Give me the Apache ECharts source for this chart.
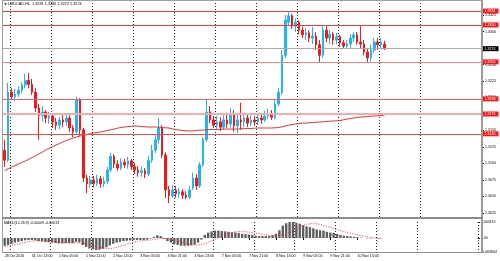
<!DOCTYPE html>
<html><head><meta charset="utf-8">
<script src="https://cdn.jsdelivr.net/npm/echarts@6/dist/echarts.min.js"></script>
<style>html,body{margin:0;padding:0;background:#fff}#c{width:500px;height:261px}</style>
</head><body><div id="c"></div>
<script>
// ---- data (prices in units of 0.0001) ----
const dateLabels = ['28 Oct 2016','31 Oct 13:00','1 Nov 05:00','1 Nov 21:00','2 Nov 13:00','3 Nov 05:00','3 Nov 21:00','4 Nov 13:00','7 Nov 05:00','7 Nov 21:00','8 Nov 13:00','9 Nov 05:00','9 Nov 21:00','10 Nov 13:00'];
const priceTicks = [1.3025,1.3050,1.3075,1.3100,1.3125,1.3150,1.3175,1.3200,1.3225,1.3250,1.3275,1.3300,1.3325];
const macdTicks = [-0.003604, 0, 0.004119];
const opens = [13120,13105,13208,13201,13205,13211,13219,13226,13220,13208,
13184,13173,13178,13169,13172,13163,13158,13166,13163,13169,
13154,13148,13196,13151,13078,13069,13075,13070,13077,13069,
13073,13090,13111,13099,13093,13102,13098,13104,13095,13090,
13086,13089,13084,13105,13120,13136,13154,13113,13060,13051,
13060,13054,13057,13052,13049,13063,13078,13066,13098,13136,
13178,13166,13158,13163,13155,13166,13160,13173,13157,13166,
13163,13169,13161,13166,13163,13169,13166,13172,13175,13170,
13190,13208,13264,13314,13324,13308,13314,13302,13295,13298,
13290,13293,13280,13264,13302,13290,13296,13287,13292,13283,
13278,13281,13290,13295,13284,13281,13269,13260,13272,13284,
13280,13281];
const closes = [13105,13208,13201,13205,13211,13219,13226,13220,13208,13184,
13173,13178,13169,13172,13163,13158,13166,13163,13169,13154,
13148,13196,13151,13078,13069,13075,13070,13077,13069,13073,
13090,13111,13099,13093,13102,13098,13104,13095,13090,13086,
13089,13084,13105,13120,13136,13154,13113,13060,13051,13060,
13054,13057,13052,13049,13060,13078,13066,13098,13136,13178,
13166,13158,13163,13155,13166,13160,13173,13157,13166,13163,
13169,13161,13166,13163,13169,13166,13172,13175,13170,13190,
13208,13264,13317,13324,13308,13314,13302,13295,13298,13290,
13293,13280,13264,13302,13290,13296,13287,13292,13283,13278,
13281,13290,13295,13284,13281,13269,13260,13272,13284,13280,
13284,13274];
const lows = [13095,13102,13196,13195,13201,13207,13214,13214,13204,13178,
13136,13163,13161,13160,13154,13151,13152,13155,13157,13148,
13140,13145,13142,13072,13055,13063,13064,13066,13063,13064,
13069,13087,13093,13089,13090,13093,13092,13090,13084,13080,
13080,13078,13081,13101,13116,13130,13108,13048,13040,13048,
13048,13048,13046,13046,13046,13060,13060,13063,13095,13133,
13161,13154,13151,13149,13151,13154,13154,13148,13146,13151,
13155,13155,13157,13157,13158,13160,13163,13167,13166,13167,
13187,13204,13260,13310,13304,13299,13296,13290,13287,13284,
13281,13272,13254,13260,13284,13281,13280,13281,13277,13274,
13274,13275,13284,13280,13275,13264,13254,13255,13267,13272,
13274,13272];
const highs = [13136,13222,13214,13213,13217,13223,13236,13237,13228,13214,
13190,13187,13181,13178,13175,13169,13170,13173,13175,13173,
13158,13201,13199,13154,13083,13081,13081,13083,13081,13080,
13095,13116,13114,13105,13108,13107,13110,13107,13101,13096,
13095,13093,13111,13128,13143,13169,13158,13117,13066,13067,
13066,13063,13061,13058,13066,13086,13084,13102,13140,13196,
13187,13172,13172,13170,13173,13177,13184,13181,13177,13192,
13177,13175,13173,13172,13175,13175,13180,13183,13181,13196,
13214,13272,13325,13331,13327,13320,13317,13307,13305,13302,
13307,13299,13287,13310,13308,13302,13299,13298,13295,13287,
13287,13296,13299,13299,13308,13287,13275,13280,13290,13290,
13290,13286];
const maValues = [13089.4,13092.0,13094.7,13096.9,13099.2,13101.5,13103.8,13106.3,13109.1,13111.6,
13114.4,13117.4,13120.4,13123.0,13125.7,13128.0,13130.3,13132.5,13134.8,13136.8,
13138.6,13140.1,13141.6,13142.8,13143.9,13145.1,13146.2,13146.9,13147.7,13148.9,
13150.0,13151.0,13152.2,13153.5,13154.5,13155.3,13156.0,13156.5,13156.8,13156.5,
13156.0,13155.6,13155.3,13155.3,13155.3,13155.0,13154.5,13154.1,13153.8,13152.5,
13151.5,13150.7,13150.0,13149.5,13149.2,13149.5,13150.0,13150.4,13150.7,13151.0,
13151.5,13151.5,13151.5,13151.9,13152.2,13152.2,13152.2,13152.2,13152.2,13152.5,
13153.0,13153.0,13153.0,13153.5,13153.8,13153.8,13153.8,13153.8,13153.8,13154.1,
13154.5,13155.6,13156.8,13158.0,13159.1,13159.8,13160.6,13161.0,13161.3,13161.6,
13162.1,13162.5,13162.8,13163.1,13163.6,13164.1,13164.4,13164.7,13165.1,13166.2,
13167.4,13168.2,13168.9,13169.7,13170.4,13170.7,13171.2,13171.6,13171.9,13172.2,
13172.7,13173.2];
// MACD in units of 0.0001
const macdMain = [-20,-18,-15,-12,-10,-8,-6,-5,-5,-6,
-8,-9,-10,-11,-12,-13,-14,-14,-13,-13,
-13,-10,-11,-18,-23,-27,-29,-31,-30,-28,
-24,-19,-15,-12,-10,-8,-7,-6,-5,-5,
-5,-5,-4,-1,3,7,5,-2,-8,-12,
-16,-18,-20,-20,-20,-19,-17,-12,-4,8,
14,17,19,19,18,17,16,15,14,13,
11,10,9,8,6,5,5,5,5,7,
11,20,32,38,41,41,39,37,33,30,
28,25,22,20,19,16,14,13,10,8,
6,5,4,3,2,1,0,-1,-1,0,
-1,-0.9];
const macdSignal = [-22,-21,-19,-17,-15,-13,-11,-9,-8,-7,
-6.5,-7,-7.5,-8,-9,-10,-11,-12,-12.5,-13,
-13,-13,-12.5,-13,-14.5,-16.5,-19,-21.5,-24,-26,
-27,-27,-26,-24,-21.5,-19,-16,-13.5,-11,-9,
-7.5,-6.5,-5.5,-5,-4,-2.5,-1,0,-1,-2.5,
-4.5,-7,-9.5,-12,-14.5,-16.5,-17.5,-18,-17,-14.5,
-11,-7,-3,1,5,9,12,14,15.5,16.5,
16.5,16,15,14,12.5,11,9.5,8,7,6,
5.5,6,8,11,15,20,25,29,32.5,35,
36.5,37,36.5,35,32.5,30,27,24,21.5,19,
16.5,14,12,10,8,6,4.5,3,2,0.5,
-0.5,-1.3];
const levels = [1.3331, 1.3310, 1.3254, 1.3198, 1.3175, 1.3145];
const levelColors = ['#ee3b3b','#ee3b3b','#f48080','#f06060','#f8aaaa','#ee4b4b'];
const levelWidths = [1,1,1,1,2,1];
const lastPrice = 1.3274;
const headerText = 'USDCAD,H1  1.3281 1.3286 1.3272 1.3274';
const macdText = 'MACD(12,26,9) -0.00009 -0.00013';
const totalSlots = 140;
const labelStep = 8;

// ---- build ----
const cats = [];
for (let i = 0; i < totalSlots; i++) {
  const k = i / labelStep;
  cats.push(i % labelStep === 0 && k < dateLabels.length ? dateLabels[k] : 's' + i);
}
const candles = opens.map((o, i) => [o / 1e4, closes[i] / 1e4, lows[i] / 1e4, highs[i] / 1e4]);
const ma = maValues.map(v => v / 1e4);
const hist = macdMain.map(v => v / 1e4);
const sig = macdSignal.map(v => v / 1e4);

const font = 'Liberation Sans';
const gridInt = (i) => i >= 2 && i <= 122 && (i - 2) % 12 === 0;
const lblInt = (i) => i % labelStep === 0 && i / labelStep < dateLabels.length;
const splitL = {show: true, interval: gridInt, lineStyle: {color: '#222', type: [1, 2], width: 1}};
const lblStyle = {fontSize: 3.6, color: '#000', fontFamily: font};

function levelLine(v, color, width, bg) {
  return {
    yAxis: v,
    lineStyle: {color: color, width: width, type: 'solid'},
    label: {show: true, position: 'end', distance: 1, formatter: v.toFixed(4), color: '#fff',
      backgroundColor: bg, fontSize: 3.6, fontFamily: font, padding: [0.6, 3, 0.4, 1.5]}
  };
}
const markData = levels.map((v, i) => levelLine(v, levelColors[i], levelWidths[i], '#ff1414'));
markData.push(levelLine(lastPrice, '#aaaaaa', 1, '#000'));

const chart = echarts.init(document.getElementById('c'), null, {renderer: 'canvas'});
chart.setOption({
  animation: false,
  backgroundColor: '#fff',
  grid: [
    {left: 3, right: 18, top: 3, height: 215},
    {left: 3, right: 18, top: 222, height: 30}
  ],
  xAxis: [
    {type: 'category', gridIndex: 0, data: cats, boundaryGap: true,
      axisLine: {show: false}, axisTick: {show: false}, axisLabel: {show: false}, splitLine: splitL},
    {type: 'category', gridIndex: 1, data: cats, boundaryGap: true,
      axisLine: {show: false},
      axisTick: {show: true, alignWithLabel: true, interval: lblInt, length: 2, lineStyle: {color: '#000'}},
      axisLabel: Object.assign({interval: lblInt, align: 'left', margin: 2,
        formatter: (v) => v}, lblStyle),
      splitLine: splitL}
  ],
  yAxis: [
    {type: 'value', gridIndex: 0, position: 'right', min: 1.30174, max: 1.33432,
      splitLine: {show: false}, axisLine: {show: false},
      axisTick: {show: true, customValues: priceTicks, length: 2, lineStyle: {color: '#000'}},
      axisLabel: Object.assign({customValues: priceTicks, margin: 3, formatter: (v) => v.toFixed(4)}, lblStyle)},
    {type: 'value', gridIndex: 1, position: 'right', min: -0.003604, max: 0.004119,
      splitLine: {show: false}, axisLine: {show: false},
      axisTick: {show: true, customValues: macdTicks, length: 2, lineStyle: {color: '#000'}},
      axisLabel: Object.assign({customValues: macdTicks, margin: 3,
        formatter: (v) => (Math.abs(v) < 1e-9 ? '0.00' : String(v))}, lblStyle)}
  ],
  series: [
    {type: 'candlestick', xAxisIndex: 0, yAxisIndex: 0, data: candles, barWidth: '60%',
      itemStyle: {color: '#22b5f0', color0: '#f01818', borderColor: '#22b5f0', borderColor0: '#f01818', borderWidth: 1}},
    {type: 'line', xAxisIndex: 0, yAxisIndex: 0, data: ma, showSymbol: false, symbol: 'none',
      lineStyle: {color: '#e83030', width: 1}, z: 3,
      markLine: {silent: true, symbol: ['none', 'none'], animation: false, precision: 4, data: markData}},
    {type: 'bar', xAxisIndex: 1, yAxisIndex: 1, data: hist, barWidth: '70%',
      itemStyle: {color: '#5e5e5e'}},
    {type: 'line', xAxisIndex: 1, yAxisIndex: 1, data: sig, showSymbol: false, symbol: 'none',
      lineStyle: {color: '#ff3030', width: 1, type: [1, 1.5]}, z: 3}
  ],
  graphic: [
    {type: 'rect', z: 100, shape: {x: 2, y: 0, width: 1, height: 253}, style: {fill: '#a0a0a0'}},
    {type: 'rect', z: 100, shape: {x: 2, y: 0, width: 481, height: 1}, style: {fill: '#a0a0a0'}},
    {type: 'rect', z: 100, shape: {x: 481, y: 0, width: 2, height: 253}, style: {fill: '#9a9a9a'}},
    {type: 'rect', z: 100, shape: {x: 2, y: 217, width: 481, height: 2}, style: {fill: '#8c8c8c'}},
    {type: 'rect', z: 100, shape: {x: 2, y: 252, width: 481, height: 1}, style: {fill: '#8c8c8c'}},
    {type: 'polygon', z: 100, shape: {points: [[4, 3], [7, 3], [5.5, 5.5]]}, style: {fill: '#555'}},
    {type: 'text', z: 100, x: 8, y: 2.2, style: {text: headerText, fontSize: 3.8, fill: '#000', fontFamily: font}},
    {type: 'text', z: 100, x: 4, y: 221, style: {text: macdText, fontSize: 3.6, fill: '#000', fontFamily: font}}
  ]
});
</script></body></html>
